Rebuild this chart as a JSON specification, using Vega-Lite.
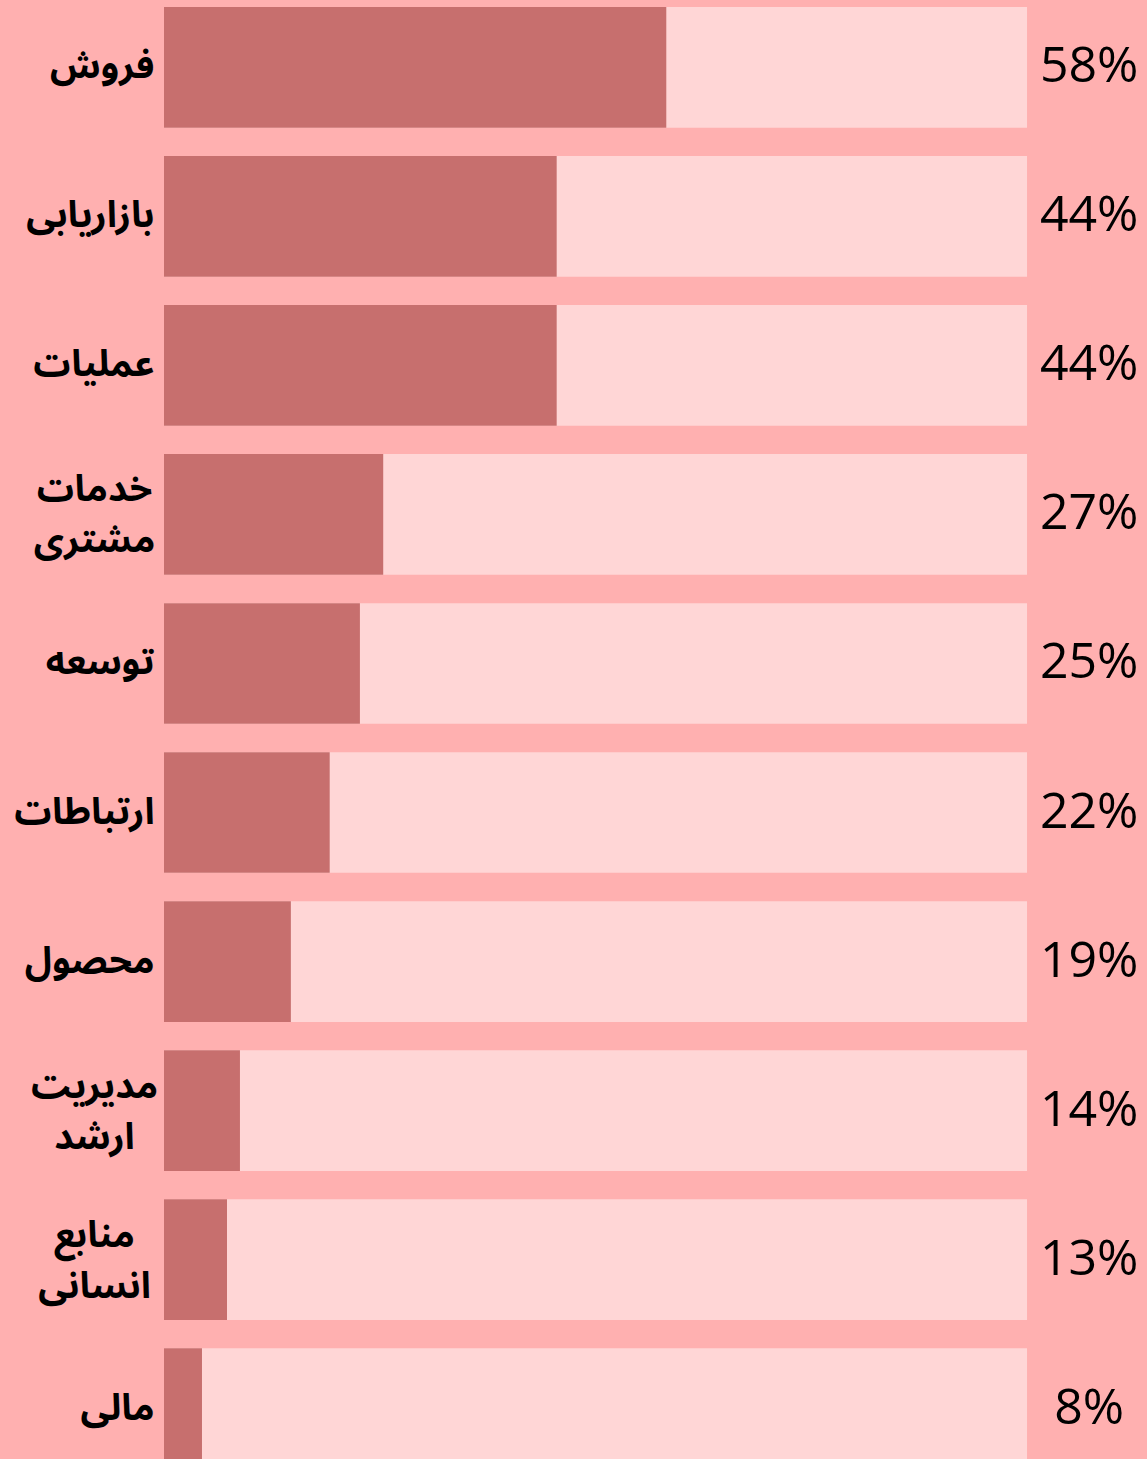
{
  "$schema": "https://vega.github.io/schema/vega-lite/v6.json",
  "width": 983,
  "height": 1476,
  "padding": 0,
  "autosize": {"type": "pad"},
  "background": "#FFB0B0",
  "config": {"view": {"stroke": null}},
  "data": {
    "values": [
      {"dept": "فروش", "bar": 58.2, "label": "58%"},
      {"dept": "بازاریابی", "bar": 45.5, "label": "44%"},
      {"dept": "عملیات", "bar": 45.5, "label": "44%"},
      {"dept": "خدمات|مشتری", "bar": 25.4, "label": "27%"},
      {"dept": "توسعه", "bar": 22.7, "label": "25%"},
      {"dept": "ارتباطات", "bar": 19.2, "label": "22%"},
      {"dept": "محصول", "bar": 14.7, "label": "19%"},
      {"dept": "مدیریت|ارشد", "bar": 8.8, "label": "14%"},
      {"dept": "منابع|انسانی", "bar": 7.3, "label": "13%"},
      {"dept": "مالی", "bar": 4.4, "label": "8%"}
    ]
  },
  "encoding": {
    "y": {
      "field": "dept",
      "type": "nominal",
      "sort": null,
      "scale": {"paddingInner": 0.19, "paddingOuter": 0.047},
      "axis": {
        "title": null,
        "ticks": false,
        "domain": false,
        "labelExpr": "split(datum.label, '|')",
        "labelFont": "Noto Sans Arabic, Noto Sans Arabic UI, Noto Naskh Arabic, sans-serif",
        "labelFontSize": 37,
        "labelFontWeight": "bold",
        "labelColor": "#000000",
        "labelPadding": {"condition": {"test": "indexof(datum.label, '|') >= 0", "value": 70}, "value": 10},
        "labelAlign": {"condition": {"test": "indexof(datum.label, '|') >= 0", "value": "center"}, "value": "right"},
        "labelLineHeight": 51,
        "labelOffset": {"condition": {"test": "indexof(datum.label, '|') >= 0", "value": -24}, "value": 0},
        "labelLimit": 200,
        "minExtent": 164,
        "maxExtent": 164
      }
    }
  },
  "layer": [
    {
      "mark": {"type": "bar", "color": "#FFD6D6"},
      "encoding": {
        "x": {"datum": 100, "type": "quantitative", "scale": {"domain": [0, 113.9], "nice": false}, "axis": null}
      }
    },
    {
      "mark": {"type": "bar", "color": "#C76F6E"},
      "encoding": {
        "x": {"field": "bar", "type": "quantitative"}
      }
    },
    {
      "mark": {"type": "text", "font": "Open Sans", "fontSize": 50, "align": "center", "baseline": "middle", "color": "#000000"},
      "encoding": {
        "x": {"datum": 107.2, "type": "quantitative"},
        "text": {"field": "label"}
      }
    }
  ]
}
